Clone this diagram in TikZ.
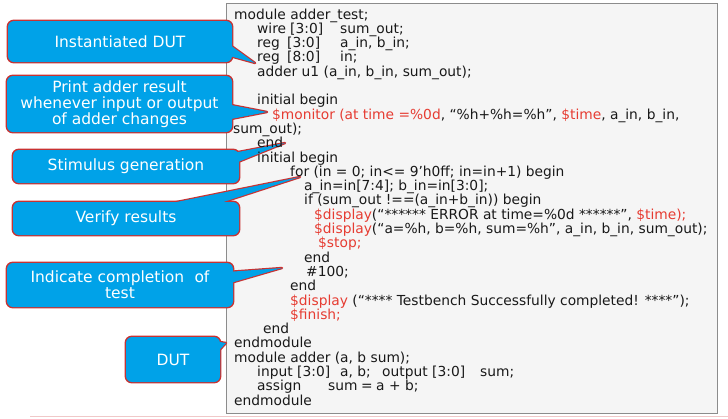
\documentclass[tikz,border=0pt]{standalone}
\usepackage{fontspec}
\setmainfont{DejaVu Sans}
\usetikzlibrary{calc}
\definecolor{cblue}{RGB}{0,162,232}
\definecolor{cred}{RGB}{200,50,50}
\definecolor{vred}{RGB}{230,60,50}
\definecolor{boxfill}{RGB}{245,245,245}
\definecolor{boxline}{RGB}{140,140,140}
\definecolor{pinkline}{RGB}{240,200,200}
\pgfdeclarelayer{bgbox}
\pgfdeclarelayer{bgstroke}
\pgfsetlayers{bgbox,bgstroke,main}
\newcommand{\rd}[1]{\textcolor{vred}{#1}}
\newcommand{\codeln}[4]{\node[codeline] (#1) at (#2,{19+(#3-1)*14.3}) {#4};}
\tikzset{
  callout/.style={fill=cblue, text=white, rounded corners=6pt, inner sep=0pt,
    align=center, font=\fontsize{15.5}{16}\selectfont},
  outl/.style={draw=cred, line width=2.4pt, rounded corners=6pt, line join=round},
  wedge/.style={draw=cred, line width=2.4pt, line join=round},
  wedgefill/.style={fill=cblue},
  codeline/.style={anchor=base west, inner sep=0pt,
    font=\fontsize{13.8}{14.3}\selectfont, text=black!90},
  codebox/.style={draw=boxline, fill=boxfill, line width=0.8pt, inner sep=0pt},
}
\begin{document}
\begin{tikzpicture}[x=1pt,y=-1pt]
\useasboundingbox (0,0) rectangle (728,418);
\begin{pgfonlayer}{bgbox}
  \node[codebox, minimum width=491pt, minimum height=410pt] (box) at (472,208.5) {};
  \draw[pinkline, line width=1pt] (30,416.5) -- (728,416.5);
\end{pgfonlayer}

% callouts
\node[callout, minimum width=224pt, minimum height=41pt] (c1) at (120,41.5) {Instantiated DUT};
\node[callout, minimum width=225pt, minimum height=56pt] (c2) at (119.5,104)
  {Print adder result\\whenever input or output\\of adder changes};
\node[callout, minimum width=226pt, minimum height=33pt] (c3) at (126,166.5) {Stimulus generation};
\node[callout, minimum width=226pt, minimum height=33pt] (c4) at (126,218.5) {Verify results};
\node[callout, minimum width=226pt, minimum height=44pt] (c5) at (120,285)
  {Indicate completion\hspace{0.35em} of\\test};
\node[callout, minimum width=94pt, minimum height=45pt] (c6) at (173,359.5) {DUT};

% pointer coordinates
\coordinate (t1) at (255,63);  \coordinate (a1) at (226,42);  \coordinate (b1) at (226,55);
\coordinate (t2) at (267,112); \coordinate (a2) at (226,104); \coordinate (b2) at (226,120);
\coordinate (t3) at (285,143); \coordinate (a3) at (233,153); \coordinate (b3) at (233,164);
\coordinate (t4) at (300,177); \coordinate (a4) at (147,208); \coordinate (b4) at (205,208);
\coordinate (t5) at (282,268); \coordinate (a5) at (227,272); \coordinate (b5) at (227,284);
\coordinate (t6) at (226,343); \coordinate (a6) at (214,341); \coordinate (b6) at (214,356);

\begin{pgfonlayer}{bgstroke}
  \foreach \c in {c1,c2,c3,c4,c5,c6}
    \draw[outl] (\c.south west) rectangle (\c.north east);
  \foreach \i in {1,...,6}
    \draw[wedge] (a\i) -- (t\i) -- (b\i) -- cycle;
  \foreach \i in {1,...,6}
    \fill[wedgefill] (a\i) -- (t\i) -- (b\i) -- cycle;
\end{pgfonlayer}

% code
\codeln{l1}{234}{1}{module adder\_test;}
\codeln{l2}{257}{2}{\makebox[33pt][l]{wire}\makebox[50pt][l]{[3:0]}sum\_out;}
\codeln{l3}{257}{3}{\makebox[30pt][l]{reg}\makebox[53pt][l]{[3:0]}a\_in, b\_in;}
\codeln{l4}{257}{4}{\makebox[30pt][l]{reg}\makebox[53pt][l]{[8:0]}in;}
\codeln{l5}{257}{5}{adder u1 (a\_in, b\_in, sum\_out);}
\codeln{l7}{257}{7}{initial begin}
\codeln{l8}{272}{8}{\rd{\$monitor (at time =\%0d}, “\%h+\%h=\%h”, \rd{\$time}, a\_in, b\_in,}
\codeln{l9}{233}{9}{sum\_out);}
\codeln{l10}{257}{10}{end}
\codeln{l11}{257}{11}{initial begin}
\codeln{l12}{290}{12}{for (in = 0; in<= 9’h0ff; in=in+1) begin}
\codeln{l13}{304}{13}{a\_in=in[7:4]; b\_in=in[3:0];}
\codeln{l14}{304}{14}{if (sum\_out !==(a\_in+b\_in)) begin}
\codeln{l15}{314}{15}{\rd{\$display}(“****** ERROR at time=\%0d ******”, \rd{\$time);}}
\codeln{l16}{314}{16}{\rd{\$display}(“a=\%h, b=\%h, sum=\%h”, a\_in, b\_in, sum\_out);}
\codeln{l17}{318}{17}{\rd{\$stop;}}
\codeln{l18}{304}{18}{end}
\codeln{l19}{306}{19}{\#100;}
\codeln{l20}{290}{20}{end}
\codeln{l21}{290}{21}{\rd{\$display} (“**** Testbench Successfully completed! ****”);}
\codeln{l22}{290}{22}{\rd{\$finish;}}
\codeln{l23}{263}{23}{end}
\codeln{l24}{234}{24}{endmodule}
\codeln{l25}{234}{25}{module adder (a, b sum);}
\codeln{l26}{257}{26}{\makebox[40pt][l]{input}\makebox[43pt][l]{[3:0]}\makebox[42pt][l]{a, b;}\makebox[50pt][l]{output}\makebox[48pt][l]{[3:0]}sum;}
\codeln{l27}{257}{27}{\makebox[71pt][l]{assign}\makebox[33pt][l]{sum}\makebox[15pt][l]{=}a + b;}
\codeln{l28}{234}{28}{endmodule}
\end{tikzpicture}
\end{document}
